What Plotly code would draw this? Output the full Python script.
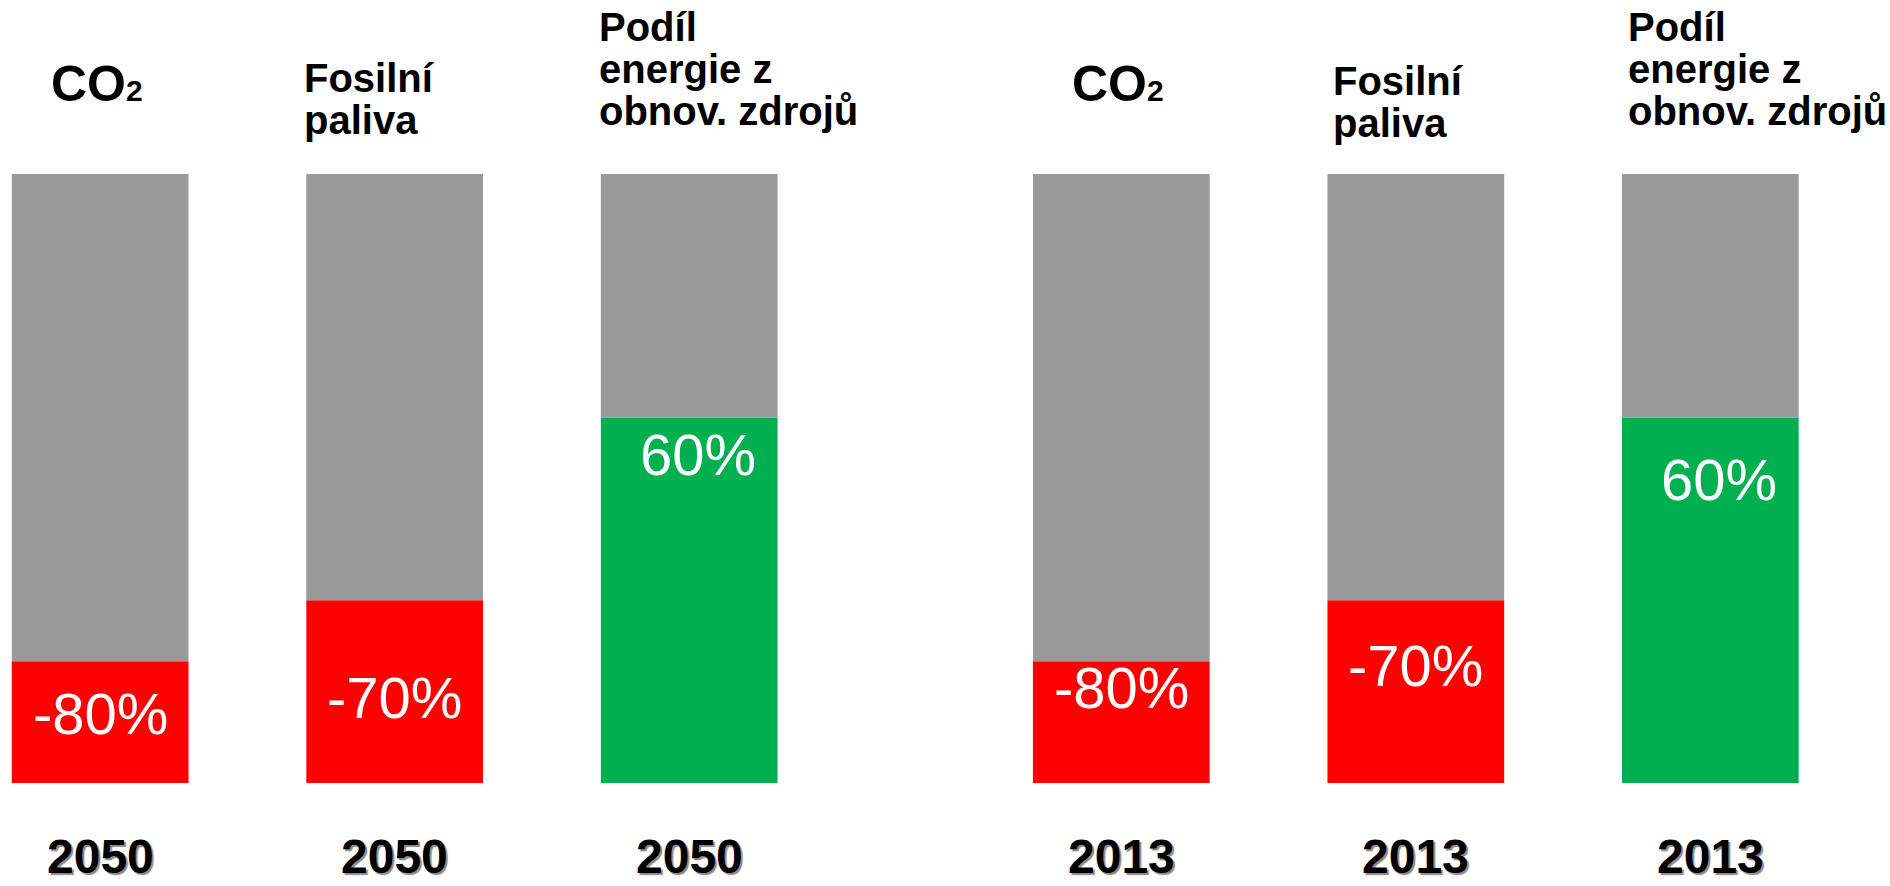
import plotly.graph_objects as go

# --- data -------------------------------------------------------------
indicators = ["CO₂", "Fosilní paliva", "Podíl energie z obnov. zdrojů"]
title_lines = [["CO₂"], ["Fosilní", "paliva"], ["Podíl", "energie z", "obnov. zdrojů"]]
years = ["2050", "2013"]
change_2050 = [-80, -70, 60]   # % change / share
change_2013 = [-80, -70, 60]
segment_colors = ["#FF0000", "#FF0000", "#00B050"]
rest_color = "#999999"

# --- layout constants -------------------------------------------------
GROUP_GAP = 3.467      # x offset of the second group
BAR_W = 0.6
FONT = "Liberation Sans, Arial, sans-serif"
label_dy = [[52, 97, 37], [26, 65, 62]]     # label centre below segment top (px)
label_dx = [[0, 0, 9], [0, 0, 9]]
LINE_STEP = 42                              # title line spacing (px)

fig = go.Figure()

annotations = []
for g, (year, values) in enumerate(zip(years, [change_2050, change_2013])):
    xs = [i + g * GROUP_GAP for i in range(len(indicators))]
    # coloured part: remaining share for reductions, share itself otherwise
    filled = [100 + v if v < 0 else v for v in values]
    rest = [100 - f for f in filled]

    fig.add_trace(go.Bar(
        x=xs, y=filled, width=BAR_W,
        marker=dict(color=segment_colors, line=dict(width=0)),
        hoverinfo="skip", showlegend=False,
    ))
    fig.add_trace(go.Bar(
        x=xs, y=rest, base=filled, width=BAR_W,
        marker=dict(color=rest_color, line=dict(width=0)),
        hoverinfo="skip", showlegend=False,
    ))

    for i, (x, v, f) in enumerate(zip(xs, values, filled)):
        # value label inside the coloured segment
        annotations.append(dict(
            x=x, y=f, xref="x", yref="y", text=f"{v}%",
            showarrow=False, yanchor="middle", xanchor="center",
            yshift=-label_dy[g][i], xshift=label_dx[g][i],
            font=dict(family=FONT, size=58, color="white"),
        ))
        # year under each bar
        annotations.append(dict(
            x=x, y=0, xref="x", yref="paper", text=f"<b>{year}</b>",
            showarrow=False, yanchor="middle", xanchor="center", yshift=-73,
            borderpad=0,
            font=dict(family=FONT, size=48, color="black",
                      shadow="2px 2px 1px #8a8a8a"),
        ))
        # indicator title above each bar
        lines = title_lines[i]
        if i == 0:
            annotations.append(dict(
                x=x, y=1, xref="x", yref="paper",
                text="<b>CO<span style='font-size:30px'>2</span></b>",
                showarrow=False, yanchor="middle", xanchor="center",
                xshift=-3, yshift=90,
                font=dict(family=FONT, size=50, color="black"),
            ))
        else:
            top = 96 if i == 1 else 147
            if i == 1 and g == 1:
                top = 93
            for k, line in enumerate(lines):
                annotations.append(dict(
                    x=x - BAR_W / 2, y=1, xref="x", yref="paper",
                    text=f"<b>{line}</b>",
                    showarrow=False, yanchor="middle", xanchor="left",
                    xshift=-4 if g == 0 else 4, yshift=top - LINE_STEP * k,
                    font=dict(family=FONT, size=40, color="black"),
                ))

fig.update_layout(
    width=1890, height=886,
    barmode="overlay",
    margin=dict(l=0, r=0, t=174, b=103),
    plot_bgcolor="white", paper_bgcolor="white",
    xaxis=dict(range=[-0.340, 6.077], visible=False, fixedrange=True),
    yaxis=dict(range=[0, 100], visible=False, fixedrange=True),
    annotations=annotations,
)

fig.write_html("out.html")
